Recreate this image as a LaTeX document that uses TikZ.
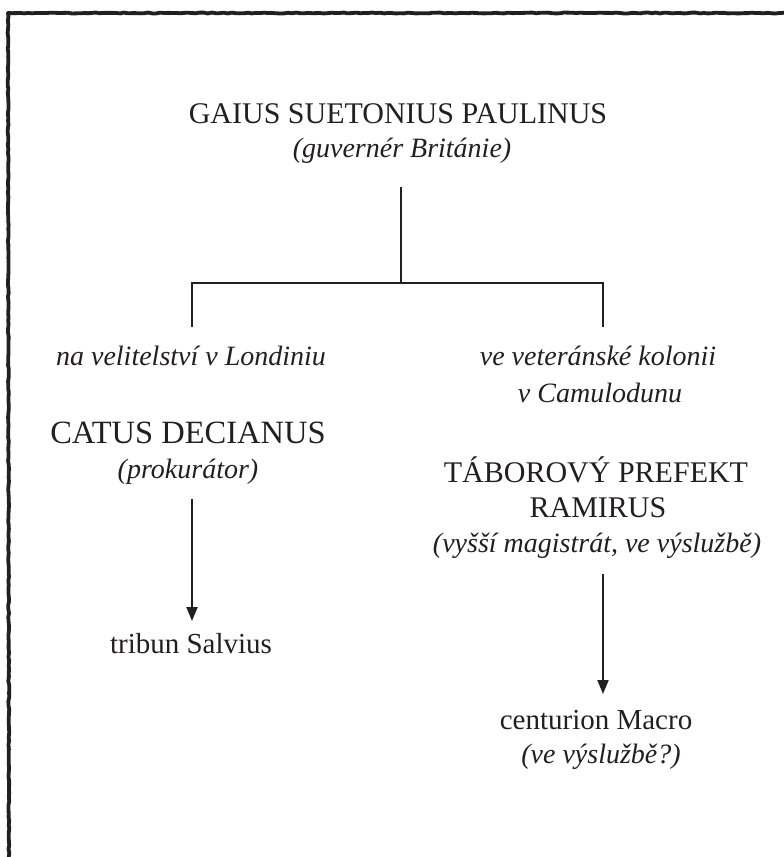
\documentclass[tikz,border=0pt]{standalone}
\usepackage{fontspec}
\setmainfont{Liberation Serif}
\usetikzlibrary{arrows.meta,decorations.pathmorphing}
\definecolor{ink}{HTML}{231F20}
\tikzset{
  capsty/.style={font=\fontsize{30}{34}\selectfont, text=ink, inner sep=0pt, anchor=base},
  bigcap/.style={capsty, font=\fontsize{32.5}{36}\selectfont},
  romsty/.style={font=\fontsize{29}{33}\selectfont, text=ink, inner sep=0pt, anchor=base},
  itsty/.style={font=\fontsize{28}{32}\selectfont\itshape, text=ink, inner sep=0pt, anchor=base},
  conn/.style={draw=ink, line width=2pt},
  arr/.style={draw=ink, line width=2pt, -{Triangle[length=14pt,width=11pt]}},
  rough/.style={draw=ink, line width=3.8pt, line cap=round, line join=round,
    decorate, decoration={random steps, segment length=4pt, amplitude=0.45pt}}
}
\begin{document}
\begin{tikzpicture}[x=1pt,y=-1pt]
\pgfmathsetseed{7}
\useasboundingbox (0,0) rectangle (784,857);
\fill[white] (0,0) rectangle (784,857);
% rough frame (top and left)
\coordinate (fc) at (8,13);
\coordinate (ftr) at (792,13);
\coordinate (fbl) at (9,866);
\draw[rough] (ftr) -- (fc) -- (fbl);

% top person
\node[capsty] (gsp) at (398,123) {GAIUS SUETONIUS PAULINUS};
\node[itsty] (gsprole) at (402,157) {(guvernér Británie)};

% junction
\coordinate (j0) at (401,187);
\coordinate (j1) at (401,283);
\coordinate (el) at (192,327);
\coordinate (er) at (603,327);
\draw[conn] (j0) -- (j1);
\draw[conn] (el) |- (j1) -| (er);

% left branch
\node[itsty] (lond) at (191,365) {na velitelství v Londiniu};
\node[bigcap] (catus) at (188,443) {CATUS DECIANUS};
\node[itsty] (prok) at (188,478) {(prokurátor)};
\node[romsty] (salv) at (191,653) {tribun Salvius};
\coordinate (a1s) at (192,499);
\coordinate (a1e) at (192,621);
\draw[arr] (a1s) -- (a1e);

% right branch
\node[itsty] (kol1) at (598,365) {ve veteránské kolonii};
\node[itsty] (kol2) at (600,402) {v Camulodunu};
\node[capsty] (tab1) at (596,482) {TÁBOROVÝ PREFEKT};
\node[capsty] (tab2) at (598,517) {RAMIRUS};
\node[itsty] (mag) at (597,552) {(vyšší magistrát, ve výslužbě)};
\node[romsty] (macro) at (596,729) {centurion Macro};
\node[itsty] (vysl) at (601,763) {(ve výslužbě?)};
\coordinate (a2s) at (603,574);
\coordinate (a2e) at (603,694);
\draw[arr] (a2s) -- (a2e);
\end{tikzpicture}
\end{document}
